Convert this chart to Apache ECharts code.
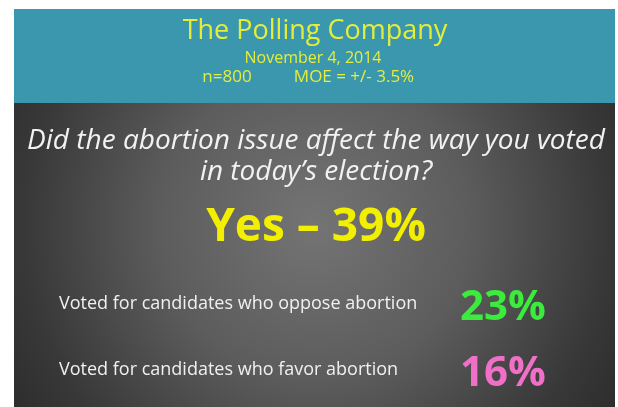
<!DOCTYPE html>
<html><head><meta charset="utf-8">
<script src="https://cdn.jsdelivr.net/npm/echarts@6/dist/echarts.min.js"></script>
<style>html,body{margin:0;padding:0;background:#fff}#c{width:618px;height:407px}</style>
</head><body><div id="c"></div>
<script>
var headerLines = ['The Polling Company', 'November 4, 2014'];
var sampleLabel = 'n=800';
var moeLabel = 'MOE = +/- 3.5%';
var question = ['Did the abortion issue affect the way you voted', 'in today\u2019s election?'];
var yesLabel = 'Yes';
var yesValue = 39;
var categories = ['Voted for candidates who oppose abortion', 'Voted for candidates who favor abortion'];
var values = [23, 16];

var chart = echarts.init(document.getElementById('c'), null, {renderer: 'canvas'});
var F = '"Open Sans", Lato, sans-serif';
var valColors = ['#3cec3c', '#f070c8'];
var elements = [
  {type: 'rect', shape: {x: 14, y: 9, width: 601, height: 94}, style: {fill: '#3a97ae'}, z: 0},
  {type: 'rect', shape: {x: 14, y: 103, width: 601, height: 304},
   style: {fill: new echarts.graphic.RadialGradient(315, 225, 390, [
     {offset: 0, color: '#747474'}, {offset: 0.4, color: '#5c5c5c'}, {offset: 0.75, color: '#383838'}, {offset: 1, color: '#262626'}], true)}, z: 0},
  {type: 'text', x: 315, y: 31, style: {text: headerLines[0], fill: '#e4ee3a', font: '27px ' + F, align: 'center', verticalAlign: 'middle'}, z: 2},
  {type: 'text', x: 313, y: 58, style: {text: headerLines[1], fill: '#e4ee3a', font: '16px ' + F, align: 'center', verticalAlign: 'middle'}, z: 2},
  {type: 'text', x: 227, y: 77, style: {text: sampleLabel, fill: '#e4ee3a', font: '17px ' + F, align: 'center', verticalAlign: 'middle'}, z: 2},
  {type: 'text', x: 354, y: 77, style: {text: moeLabel, fill: '#e4ee3a', font: '17px ' + F, align: 'center', verticalAlign: 'middle'}, z: 2},
  {type: 'text', x: 316, y: 141, style: {text: question[0], fill: '#f2f2f2', font: 'italic 28px ' + F, align: 'center', verticalAlign: 'middle'}, z: 2},
  {type: 'text', x: 316, y: 172, style: {text: question[1], fill: '#f2f2f2', font: 'italic 28px ' + F, align: 'center', verticalAlign: 'middle'}, z: 2},
  {type: 'text', x: 316, y: 228, style: {text: yesLabel + ' \u2013 ' + yesValue + '%', fill: '#f2f000', font: 'bold 46px ' + F, align: 'center', verticalAlign: 'middle'}, z: 2}
];
var rowY = [304, 370];
categories.forEach(function (c, i) {
  elements.push({type: 'text', x: 59, y: rowY[i], style: {text: c, fill: '#f0f0f0', font: '18px ' + F, align: 'left', verticalAlign: 'middle'}, z: 2});
  elements.push({type: 'text', x: 460, y: rowY[i] + 4, style: {text: values[i] + '%', fill: valColors[i], font: 'bold 42px ' + F, align: 'left', verticalAlign: 'middle'}, z: 2});
});
chart.setOption({animation: false, backgroundColor: '#ffffff', graphic: {elements: elements}});
</script></body></html>
